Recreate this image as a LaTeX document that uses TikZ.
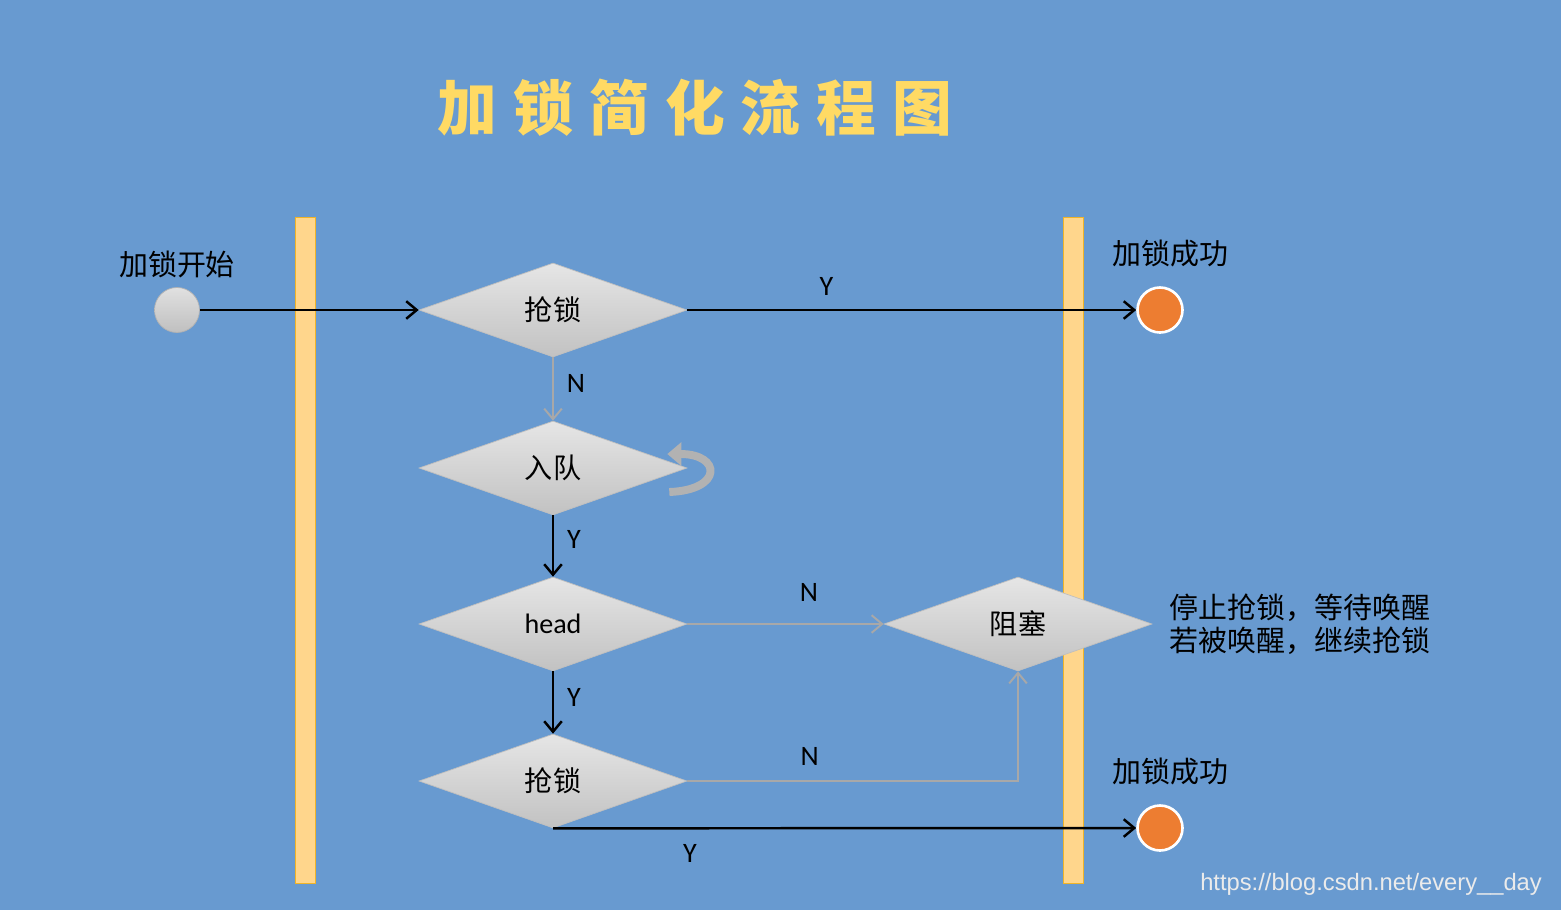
\documentclass[tikz,border=0pt]{standalone}
\usepackage{fontspec}
\setmainfont{Carlito}
\newfontfamily\cjk{Noto Sans CJK SC}
\newfontfamily\cjktitle[LetterSpace=27]{Noto Sans CJK SC}
\newfontfamily\wmark{Liberation Sans}
\usepackage{tikz}
\usetikzlibrary{shapes.geometric,arrows.meta,calc}
\definecolor{paper}{RGB}{104,154,208}
\definecolor{lanefill}{RGB}{255,214,140}
\definecolor{laneedge}{RGB}{240,180,40}
\definecolor{okorange}{RGB}{237,125,49}
\definecolor{titleyellow}{RGB}{255,218,100}
\definecolor{noline}{RGB}{168,168,168}
\tikzstyle{decision}=[diamond, draw=black!25, top color=black!10, bottom color=black!24, inner sep=0pt, minimum width=5.36cm, minimum height=1.88cm, font=\cjk\fontsize{16}{18}\selectfont]
\newcommand{\decision}{\node[decision]}
\tikzstyle{terminal}=[circle, inner sep=0pt, minimum size=0.9cm]
\newcommand{\terminal}{\node[terminal]}

\begin{document}
\begin{tikzpicture}[x=0.02cm, y=-0.02cm]
	\tikzstyle{lane}=[fill=lanefill, draw=laneedge, line width=0.5pt]
	\tikzstyle{flowyes}=[draw=black, line width=1.4pt, -{Straight Barb[length=6pt,width=10pt]}]
	\tikzstyle{flowno}=[draw=noline, line width=1.1pt, -{Straight Barb[length=6pt,width=10pt]}]
	\tikzstyle{loopback}=[draw=black!30, line width=4.5pt, -{Triangle[length=8pt,width=13pt]}]
	\tikzstyle{tag}=[font=\fontsize{16}{18}\selectfont]
	\tikzstyle{caption}=[font=\cjk\fontsize{16.5}{18.5}\selectfont]
	% Fond et titre
	\fill[paper] (0,0) rectangle (1561,910);
	\node[font=\cjktitle\bfseries\fontsize{34}{40}\selectfont, text=titleyellow] (title) at (695,108) {加锁简化流程图};
	% Couloirs
	\draw[lane] (295,217) rectangle (315,883);
	\draw[lane] (1063,217) rectangle (1083,883);
	% Debut et fins
	\terminal[draw=black!30, top color=black!12, bottom color=black!25, label={[caption, label distance=2pt]above:加锁开始}] (start) at (177,310) {};
	\terminal[fill=okorange, draw=white, line width=1.5pt, label={[caption, xshift=0.2cm, label distance=0.25cm]above:加锁成功}] (ok1) at (1160,310) {};
	\terminal[fill=okorange, draw=white, line width=1.5pt, label={[caption, xshift=0.2cm, label distance=0.25cm]above:加锁成功}] (ok2) at (1160,828) {};
	% Decisions
	\decision (d1) at (553,310) {抢锁};
	\decision (d2) at (553,468) {入队};
	\decision[font=\fontsize{16}{18}\selectfont] (d3) at (553,624) {head};
	\decision (d4) at (553,781) {抢锁};
	\decision (d5) at (1018,624) {阻塞};
	\node[caption, anchor=west, align=left] (wait) at (1163,624) {停止抢锁，等待唤醒\\若被唤醒，继续抢锁};

	\path
	(start) edge[flowyes] (d1)
	(d1) edge[flowyes] node[tag, pos=0.31, above=4pt] {Y} (ok1)
	(d1) edge[flowno] node[tag, right=4pt, yshift=3pt] {N} (d2)
	(d2) edge[flowyes] node[tag, right=4pt, yshift=4pt] {Y} (d3)
	(d3) edge[flowno] node[tag, pos=0.62, above=9pt] {N} (d5)
	(d3) edge[flowyes] node[tag, right=4pt, yshift=3pt] {Y} (d4)
	(d4.south) edge[flowyes] node[tag, pos=0.235, below=5pt] {Y} (ok2)
	;
	\draw[flowno] (d4.east) -| node[tag, pos=0.185, above=5pt] {N} (d5.south);
	\draw[loopback] ($(d2.east)+(-18,24)$) .. controls ($(d2.east)+(36,22)$) and ($(d2.east)+(34,-14)$) .. ($(d2.east)+(-20,-14)$);

	\node[font=\wmark\fontsize{13.5}{16}\selectfont, text=black!8, anchor=east] (mark) at (1548,884) {https://blog.csdn.net/every\_\_day};
\end{tikzpicture}
\end{document}
